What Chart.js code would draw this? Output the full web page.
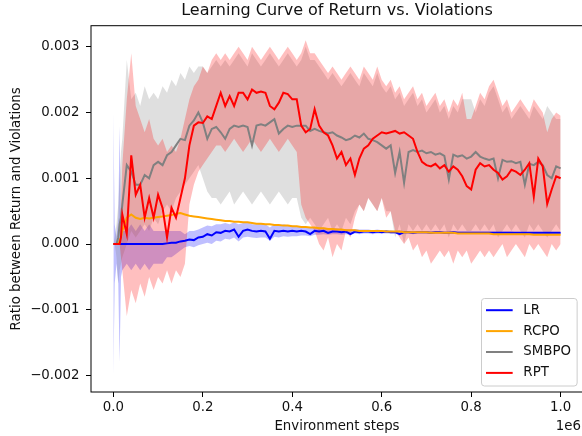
<!DOCTYPE html>
<html><head><meta charset="utf-8">
<script src="https://cdn.jsdelivr.net/npm/chart.js@4.4.1/dist/chart.umd.min.js"></script>
<style>html,body{margin:0;padding:0;background:#fff;overflow:hidden}#wrap{width:583px;height:436px}</style>
</head><body><div id="wrap"><canvas id="c" width="583" height="436"></canvas></div>
<script>
// Environment steps (in units of 1e6)
const stepsM = [0,0.003,0.007,0.011,0.014,0.017,
0.02,0.03,0.04,0.05,0.06,0.07,0.08,0.09,
0.10,0.11,0.12,0.13,0.14,0.15,0.16,0.17,0.18,0.19,
0.20,0.21,0.22,0.23,0.24,0.25,0.26,0.27,0.28,0.29,
0.30,0.31,0.32,0.33,0.34,0.35,0.36,0.37,0.38,0.39,
0.40,0.41,0.42,0.43,0.44,0.45,0.46,0.47,0.48,0.49,
0.50,0.51,0.52,0.53,0.54,0.55,0.56,0.57,0.58,0.59,
0.60,0.61,0.62,0.63,0.64,0.65,0.66,0.67,0.68,0.69,
0.70,0.71,0.72,0.73,0.74,0.75,0.76,0.77,0.78,0.79,
0.80,0.81,0.82,0.83,0.84,0.85,0.86,0.87,0.88,0.89,
0.90,0.91,0.92,0.93,0.94,0.95,0.96,0.97,0.98,0.99,
1.00];

const xTicks = [0, 0.2, 0.4, 0.6, 0.8, 1.0];
const yTicks = [-0.002, -0.001, 0, 0.001, 0.002, 0.003];
const seriesNames = ['LR', 'RCPO', 'SMBPO', 'RPT'];

// LR
const lrMean = [0,0,0,0,0,0,
0,0,0,0,0,0,0,0,
0,0,0.00001,0.00002,0.00002,0.00004,0.00005,0.00007,0.00006,0.0001,
0.00011,0.00015,0.00013,0.00018,0.00017,0.0002,0.00019,0.00022,0.00011,0.0002,
0.00022,0.0002,0.00019,0.0002,0.00019,0.00008,0.0002,0.00019,0.0002,0.00019,
0.0002,0.00019,0.0002,0.00019,0.00015,0.0002,0.00019,0.0002,0.00017,0.00019,
0.00019,0.00018,0.00019,0.00015,0.00019,0.00018,0.00019,0.00019,0.00018,0.00019,
0.00018,0.00019,0.00018,0.00018,0.00015,0.00018,0.00018,0.00017,0.00018,0.00018,
0.00018,0.00017,0.00018,0.00018,0.00017,0.00017,0.00018,0.00017,0.00017,0.00017,
0.00017,0.00017,0.00017,0.00017,0.00017,0.00017,0.00017,0.00017,0.00017,0.00017,
0.00017,0.00017,0.00017,0.00017,0.00017,0.00017,0.00017,0.00017,0.00017,0.00017,
0.00017];
const lrUpper = [0.002,0.0003,0.0001,0.0004,0.0018,0.0003,
0.0002,0.0002,0.0003,0.0002,0.0003,0.0002,0.0003,0.0002,
0.0002,0.0002,0.0002,0.0002,0.0002,0.0002,0.00015,0.0002,0.0002,0.00022,
0.00025,0.00028,0.00027,0.0003,0.0003,0.00032,0.0003,0.00033,0.0003,0.00032,
0.00033,0.0003,0.0003,0.00031,0.0003,0.00025,0.0003,0.00029,0.0003,0.00028,
0.00028,0.00027,0.00027,0.00026,0.00025,0.00026,0.00025,0.00025,0.00024,0.00024,
0.00024,0.00023,0.00023,0.00022,0.00023,0.00022,0.00022,0.00022,0.00021,0.00022,
0.00021,0.00021,0.00021,0.0002,0.00021,0.0002,0.0002,0.0002,0.0002,0.0002,
0.0002,0.00019,0.0002,0.0002,0.00019,0.00019,0.0002,0.00019,0.00019,0.00019,
0.00019,0.00019,0.00019,0.00019,0.00019,0.00019,0.00019,0.00019,0.00019,0.00019,
0.00018,0.00018,0.00018,0.00018,0.00018,0.00018,0.00018,0.00018,0.00018,0.00018,
0.00018];
const lrLower = [-0.002,-0.0006,-0.0003,-0.0006,-0.0018,-0.0005,
-0.0004,-0.0003,-0.0004,-0.0003,-0.0004,-0.0003,-0.0004,-0.0003,
-0.0003,-0.0003,-0.0002,-0.0002,-0.00015,-0.0001,-0.00005,-0.00003,-0.00005,-0.00002,
0,0.00002,0,0.00005,0.00004,0.00008,0.00007,0.0001,0.00004,0.0001,
0.00011,0.0001,0.00009,0.0001,0.0001,0.00005,0.00011,0.0001,0.00012,0.00011,
0.00012,0.00012,0.00013,0.00013,0.00012,0.00014,0.00014,0.00015,0.00014,0.00015,
0.00015,0.00014,0.00015,0.00014,0.00016,0.00015,0.00016,0.00016,0.00015,0.00016,
0.00016,0.00016,0.00016,0.00016,0.00015,0.00016,0.00016,0.00015,0.00016,0.00016,
0.00016,0.00016,0.00016,0.00016,0.00016,0.00016,0.00016,0.00016,0.00016,0.00016,
0.00016,0.00016,0.00016,0.00016,0.00016,0.00016,0.00016,0.00016,0.00016,0.00016,
0.00016,0.00016,0.00016,0.00016,0.00016,0.00016,0.00016,0.00016,0.00016,0.00016,
0.00016];

// RCPO
const rcpoMean = [0,0,0,0,0.00005,0.0001,
0.0002,0.0004,0.00045,0.0004,0.00038,0.0004,0.00039,0.0004,
0.00041,0.00042,0.00043,0.00044,0.00046,0.00047,0.00045,0.00043,0.00042,0.00041,
0.0004,0.00039,0.00038,0.00037,0.00036,0.00035,0.00035,0.00034,0.00034,0.00033,
0.00033,0.00032,0.00031,0.00031,0.0003,0.0003,0.00029,0.00029,0.00028,0.00028,
0.00027,0.00027,0.00026,0.00026,0.00025,0.00025,0.00024,0.00024,0.00023,0.00023,
0.00022,0.00022,0.00021,0.00021,0.00021,0.0002,0.0002,0.0002,0.0002,0.0002,
0.0002,0.00019,0.00019,0.00019,0.00019,0.00018,0.00018,0.00018,0.00018,0.00018,
0.00018,0.00017,0.00017,0.00017,0.00017,0.00017,0.00017,0.00016,0.00016,0.00016,
0.00016,0.00016,0.00016,0.00016,0.00016,0.00015,0.00015,0.00015,0.00015,0.00015,
0.00015,0.00015,0.00015,0.00015,0.00014,0.00014,0.00014,0.00014,0.00014,0.00014,
0.00014];

// SMBPO
const smbpoMean = [0,0,0,0.0001,0.0003,0.0004,
0.0006,0.0012,0.0011,0.0009,0.0009,0.00105,0.001,0.0012,
0.00125,0.0012,0.00135,0.0014,0.0015,0.0016,0.00158,0.0018,0.00188,0.002,
0.00185,0.0016,0.00175,0.00178,0.0017,0.0016,0.00175,0.0018,0.00178,0.0018,
0.00178,0.0015,0.0018,0.00182,0.0018,0.00185,0.0019,0.00168,0.00175,0.0018,
0.00178,0.0018,0.0018,0.0018,0.00172,0.00175,0.00172,0.0017,0.00168,0.0017,
0.00165,0.00162,0.00158,0.0016,0.00165,0.00162,0.00168,0.0016,0.00158,0.00155,
0.0015,0.00145,0.0015,0.00108,0.0014,0.00093,0.0014,0.00143,0.0014,0.00142,
0.00138,0.0014,0.00136,0.00138,0.00134,0.00098,0.00136,0.00133,0.00135,0.0013,
0.00133,0.0014,0.00133,0.0013,0.00128,0.0013,0.001,0.00128,0.00125,0.00126,
0.00123,0.00125,0.0009,0.00122,0.0012,0.00125,0.0012,0.00105,0.001,0.00118,
0.00115];
const smbpoUpper = [0,0.0001,0.0003,0.0006,0.001,0.0014,
0.0016,0.0028,0.0022,0.0023,0.0021,0.0024,0.0022,0.0023,
0.0022,0.0024,0.0023,0.0025,0.0024,0.0026,0.0025,0.0027,0.0026,0.0027,
0.0027,0.0026,0.0027,0.0028,0.0027,0.0028,0.0027,0.0028,0.0029,0.0028,
0.0027,0.0029,0.0028,0.0027,0.0028,0.0029,0.0028,0.0027,0.0028,0.0029,
0.0028,0.0027,0.0028,0.003,0.0028,0.0028,0.0027,0.0026,0.0025,0.0026,
0.0025,0.0024,0.0025,0.0026,0.0025,0.0024,0.0026,0.0025,0.0024,0.0026,
0.0024,0.0023,0.0024,0.0022,0.0023,0.0021,0.0022,0.0023,0.0021,0.0022,
0.002,0.0021,0.0022,0.002,0.0021,0.0019,0.0021,0.002,0.0022,0.0022,
0.0022,0.002,0.0022,0.0021,0.0023,0.0024,0.0022,0.002,0.0021,0.0019,
0.002,0.0021,0.002,0.0019,0.0021,0.002,0.0019,0.0021,0.002,0.0019,
0.0019];
const smbpoLower = [0,0,-0.0002,-0.0006,-0.0004,-0.0003,
-0.0002,0,0.0002,0.0001,0.0002,0.0003,0.0002,0.0004,
0.0003,0.0005,0.0006,0.0005,0.0007,0.0008,0.0009,0.001,0.0011,0.0012,
0.001,0.0008,0.0007,0.0007,0.0006,0.0007,0.0008,0.0006,0.0007,0.0008,
0.0007,0.0006,0.0007,0.0008,0.0007,0.0006,0.0007,0.0008,0.0007,0.0006,
0.0007,0.0007,0.0004,0.0003,0.0004,0.0003,0.0002,0.0003,0.0004,0.0002,
0.0003,0.0002,0.0004,0.0003,0.0005,0.0006,0.0005,0.0007,0.0006,0.0005,
0.0007,0.0005,0.0005,0.0001,0.0003,0,0.0003,0.0002,0.0003,0.0002,
0.0003,0.0002,0.0003,0.0002,0.0003,0.0001,0.0003,0.0002,0.0003,0.0002,
0.0002,0.0003,0.0002,0.0003,0.0002,0.0003,0.0001,0.0002,0.0003,0.0002,
0.0003,0.0002,0.0001,0.0003,0.0002,0.0003,0.0002,0.0001,0.0002,0.0003,
0.0002];

// RPT
const rptMean = [0,0,0,0,0,0.0001,
0.00045,0.00015,0.00135,0.00075,0.0009,0.0004,0.0007,0.0004,
0.00075,0.00055,0.0001,0.00055,0.0004,0.0007,0.001,0.0015,0.0018,0.00185,
0.00184,0.00194,0.0019,0.0021,0.0023,0.0021,0.00225,0.0021,0.0023,0.0023,
0.0022,0.00235,0.0023,0.00232,0.0023,0.0021,0.00205,0.00215,0.0023,0.00228,
0.0022,0.0022,0.0018,0.0017,0.00175,0.00205,0.0018,0.0017,0.00165,0.0015,
0.0013,0.0014,0.0012,0.0013,0.00105,0.0013,0.00145,0.0015,0.0016,0.00165,
0.0017,0.00168,0.0017,0.00172,0.00168,0.0017,0.00165,0.0016,0.0014,0.00125,
0.0012,0.00118,0.00122,0.00115,0.0012,0.0011,0.00118,0.00113,0.00103,0.00088,
0.00083,0.00113,0.00123,0.00118,0.0012,0.00113,0.00108,0.00098,0.00103,0.00113,
0.0011,0.00105,0.00113,0.00123,0.00072,0.0013,0.00118,0.00061,0.00083,0.00103,
0.001];
const rptUpper = [0,0,0,0,0,0.0006,
0.0012,0.0022,0.0029,0.0021,0.0019,0.0017,0.0019,0.0016,
0.0015,0.0016,0.0014,0.0015,0.0014,0.0016,0.0019,0.0022,0.0024,0.0025,
0.0027,0.0026,0.0028,0.0029,0.0028,0.0029,0.0028,0.0029,0.003,0.0029,
0.0028,0.003,0.0029,0.0028,0.0029,0.003,0.0029,0.0028,0.0029,0.003,
0.0029,0.0028,0.0029,0.0031,0.0029,0.0029,0.0028,0.0027,0.0026,0.0027,
0.0026,0.0025,0.0026,0.0027,0.0026,0.0025,0.0027,0.0026,0.0025,0.0027,
0.0025,0.0024,0.0025,0.0023,0.0024,0.0022,0.0023,0.0024,0.0022,0.0023,
0.0021,0.0022,0.0023,0.0021,0.0022,0.002,0.0022,0.0021,0.0023,0.0019,
0.0019,0.0021,0.0023,0.0022,0.0024,0.0025,0.0023,0.0021,0.0022,0.002,
0.0021,0.0022,0.0021,0.002,0.0022,0.0021,0.002,0.0017,0.0019,0.002,
0.00195];
const rptLower = [0,0,0,0,0,-0.0002,
-0.0004,-0.0011,-0.0007,-0.0009,-0.0006,-0.0008,-0.0005,-0.0007,
-0.0005,-0.0006,-0.0004,-0.0006,-0.0004,-0.0005,-0.0003,0.0006,0.0009,0.0011,
0.0012,0.0013,0.0014,0.0015,0.0015,0.0014,0.0015,0.0016,0.0015,0.0014,
0.0015,0.0016,0.0015,0.0014,0.0015,0.0016,0.0015,0.0014,0.0015,0.0016,
0.0015,0.0014,0.0006,0.0004,0.0003,0.0002,0,-0.0001,0.0001,-0.0002,
0,-0.0001,0.0002,0.0001,0.0004,0.0006,0.0005,0.0007,0.0006,0.0005,
0.0007,0.0004,0.0005,0.0002,0.0001,0,0.0001,-0.0001,0,-0.0002,
-0.0001,-0.0003,-0.0002,-0.0001,-0.0002,-0.0001,-0.0003,-0.0001,-0.0002,-0.0001,
-0.0003,-0.0002,-0.0001,-0.0002,-0.0001,-0.0002,-0.0001,0,-0.0002,-0.0001,
0,-0.0001,-0.0002,0,-0.0001,0,-0.0001,-0.0002,0,-0.0001,
0];

const FONT = "'DejaVu Sans', sans-serif";
const TXT = '#111';
const pts = ys => stepsM.map((x, i) => ({x: x, y: ys[i]}));
const lineDs = (label, ys, color, order) => ({label, data: pts(ys), borderColor: color, backgroundColor: color,
  borderWidth: 2, pointRadius: 0, fill: false, order, isLine: true});
const bandDs = (label, ys, fillColor, order, fillTo) => ({label, data: pts(ys), borderColor: 'rgba(0,0,0,0)',
  backgroundColor: fillColor, borderWidth: 0, pointRadius: 0, fill: fillTo, order});

const decor = {
  id: 'decor',
  afterDatasetsDraw(chart) {
    const {ctx, chartArea: a} = chart;
    ctx.save();
    ctx.strokeStyle = '#000'; ctx.lineWidth = 1;
    ctx.strokeRect(a.left, a.top, a.right - a.left, a.bottom - a.top);
    ctx.restore();
  },
  afterDraw(chart) {
    const {ctx, chartArea: a} = chart;
    const fs = 13.33;
    ctx.save();
    ctx.font = fs + 'px ' + FONT;
    const items = chart.data.datasets.filter(d => d.isLine);
    const maxW = Math.max(...items.map(d => ctx.measureText(d.label).width));
    const pad = 5.3, hl = 26.7, htp = 10.7, rowH = 14.2, gap = 6.7, axpad = 6.7;
    const w = pad * 2 + hl + htp + maxW, h = pad * 2 + rowH * items.length + gap * (items.length - 1);
    const x0 = a.right - axpad - w, y0 = a.bottom - axpad - h;
    ctx.beginPath();
    ctx.roundRect(Math.round(x0) + 0.5, Math.round(y0) + 0.5, w, h, 3);
    ctx.fillStyle = 'rgba(255,255,255,0.8)'; ctx.fill();
    ctx.strokeStyle = '#cccccc'; ctx.lineWidth = 1; ctx.stroke();
    items.forEach((d, i) => {
      const cy = y0 + pad + rowH / 2 + i * (rowH + gap);
      ctx.beginPath(); ctx.strokeStyle = d.borderColor; ctx.lineWidth = 2;
      ctx.moveTo(x0 + pad, cy); ctx.lineTo(x0 + pad + hl, cy); ctx.stroke();
      ctx.fillStyle = TXT; ctx.textAlign = 'left'; ctx.textBaseline = 'middle';
      ctx.fillText(d.label, x0 + pad + hl + htp, cy);
    });
    ctx.textAlign = 'right'; ctx.textBaseline = 'middle'; ctx.fillStyle = TXT;
    ctx.fillText('1e6', a.right - 2, chart.scales.x.bottom - 9.5);
    ctx.restore();
  }
};

new Chart(document.getElementById('c'), {
  type: 'line',
  data: {
    datasets: [
      lineDs(seriesNames[0], lrMean, '#0000ff', 3),
      lineDs(seriesNames[1], rcpoMean, '#ffa500', 2),
      lineDs(seriesNames[2], smbpoMean, '#808080', 1),
      lineDs(seriesNames[3], rptMean, '#ff0000', 0),
      bandDs('LR upper', lrUpper, 'rgba(0,0,255,0.25)', 6, '+1'),
      bandDs('LR lower', lrLower, 'rgba(0,0,0,0)', 6, false),
      bandDs('SMBPO upper', smbpoUpper, 'rgba(128,128,128,0.25)', 5, '+1'),
      bandDs('SMBPO lower', smbpoLower, 'rgba(0,0,0,0)', 5, false),
      bandDs('RPT upper', rptUpper, 'rgba(255,0,0,0.25)', 4, '+1'),
      bandDs('RPT lower', rptLower, 'rgba(0,0,0,0)', 4, false)
    ]
  },
  options: {
    responsive: false,
    animation: false,
    devicePixelRatio: 1,
    layout: {padding: {left: 0, right: 0, top: 0, bottom: 0}},
    plugins: {
      legend: {display: false},
      tooltip: {enabled: false},
      filler: {drawTime: 'beforeDatasetsDraw'},
      title: {display: true, fullSize: false, text: 'Learning Curve of Return vs. Violations', color: TXT,
        font: {family: FONT, size: 16, weight: 'normal'}, padding: {top: 1.5, bottom: 5}}
    },
    scales: {
      x: {
        type: 'linear', min: -0.05, max: 1.05,
        afterBuildTicks: s => { s.ticks = xTicks.map(v => ({value: v})); },
        afterFit: s => { s.height = 44; },
        grid: {display: true, drawOnChartArea: false, drawTicks: true, tickLength: 5, tickColor: '#000', tickWidth: 1},
        border: {display: false},
        ticks: {padding: 3, color: TXT, font: {family: FONT, size: 13.33}, maxRotation: 0, autoSkip: false,
          callback: v => Number(v).toFixed(1)},
        title: {display: true, text: 'Environment steps', color: TXT, font: {family: FONT, size: 13.33},
          padding: {top: 0, bottom: 1}}
      },
      y: {
        type: 'linear', min: -0.00225, max: 0.00332,
        afterBuildTicks: s => { s.ticks = yTicks.map(v => ({value: v})); },
        afterFit: s => { s.width = 91; },
        grid: {display: true, drawOnChartArea: false, drawTicks: true, tickLength: 5, tickColor: '#000', tickWidth: 1},
        border: {display: false},
        ticks: {padding: 6.5, color: TXT, font: {family: FONT, size: 13.33}, autoSkip: false,
          callback: v => Number(v).toFixed(3).replace('-', '\u2212')},
        title: {display: true, text: 'Ratio between Return and Violations', color: TXT, font: {family: FONT, size: 13.33},
          padding: {top: 8.7, bottom: 0}}
      }
    }
  },
  plugins: [decor]
});
</script>
</body></html>
